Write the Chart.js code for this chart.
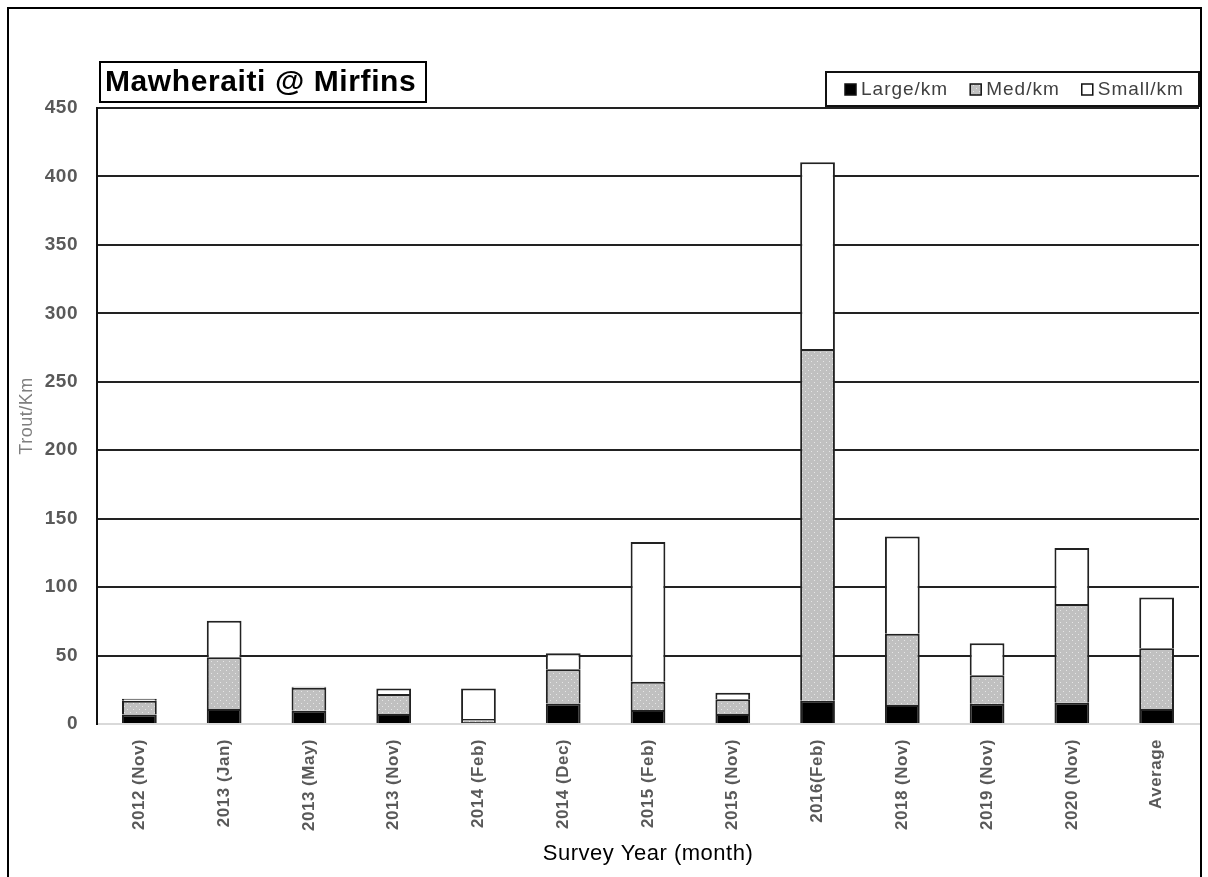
<!DOCTYPE html>
<html>
<head>
<meta charset="utf-8">
<title>Mawheraiti @ Mirfins</title>
<script src="https://cdn.jsdelivr.net/npm/chart.js@4.4.1/dist/chart.umd.min.js"></script>
<style>
  html, body { margin: 0; padding: 0; background: #fff; }
  #wrap { width: 1208px; height: 877px; }
</style>
</head>
<body>
<div id="wrap"><canvas id="trout-chart"></canvas></div>
<script>
const surveys = ['2012 (Nov)', '2013 (Jan)', '2013 (May)', '2013 (Nov)', '2014 (Feb)', '2014 (Dec)',
    '2015 (Feb)', '2015 (Nov)', '2016(Feb)', '2018 (Nov)', '2019 (Nov)', '2020 (Nov)', 'Average'];
const largeKm = [7, 11, 9.7, 7.3, 1.5, 15, 10.2, 7.3, 17, 13.9, 14.8, 15.6, 11];
const medKm = [10, 37.7, 16.8, 14.7, 2.1, 25, 20.7, 10.7, 257, 52.1, 20.8, 72, 44.3];
const smallKm = [1.5, 26.8, 0.8, 4, 22.4, 11.6, 102.1, 4.9, 136.3, 71, 23.4, 40.9, 37.2];
const yTicks = [0, 50, 100, 150, 200, 250, 300, 350, 400, 450];

const chartTitle = 'Mawheraiti @ Mirfins';
const FONT = "'Liberation Sans', Arial, sans-serif";
const SPACING = '0.5px'; // the original text is drawn a little spread out

// dotted grey fill for the medium fish
function dotPattern() {
    const c = document.createElement('canvas');
    c.width = 6; c.height = 6;
    const g = c.getContext('2d');
    g.fillStyle = '#c0c0c0';
    g.fillRect(0, 0, 6, 6);
    g.fillStyle = '#e6e6e6';
    g.fillRect(1, 1, 1, 1);
    g.fillRect(4, 4, 1, 1);
    return g.createPattern(c, 'repeat');
}
const medFill = dotPattern();

const framePlugin = {
    id: 'frame',
    beforeDraw(chart) {
        chart.ctx.letterSpacing = SPACING;
    },
    afterDraw(chart) {
        const ctx = chart.ctx;
        ctx.save();
        // outer frame
        ctx.strokeStyle = '#000';
        ctx.lineWidth = 2;
        ctx.strokeRect(8, 8, 1193, 880);

        // boxed title
        ctx.font = 'bold 30px ' + FONT;
        ctx.letterSpacing = '0.6px';
        ctx.textBaseline = 'middle';
        ctx.fillStyle = '#000';
        ctx.fillText(chartTitle, 105, 83);
        ctx.strokeRect(100, 62, 326, 40);

        // boxed legend, built from the datasets
        ctx.font = '19px ' + FONT;
        ctx.letterSpacing = '1px';
        const ds = chart.data.datasets;
        let x = 845;
        ds.forEach(d => {
            ctx.fillStyle = d.backgroundColor;
            ctx.fillRect(x, 84, 11, 11);
            ctx.lineWidth = 1.5;
            ctx.strokeStyle = '#111';
            ctx.strokeRect(x, 84, 11, 11);
            ctx.fillStyle = '#404040';
            ctx.fillText(d.label, x + 16, 90);
            x += 16 + ctx.measureText(d.label).width + 22;
        });
        ctx.lineWidth = 2;
        ctx.strokeStyle = '#111';
        ctx.strokeRect(826, 72, 373, 34);
        ctx.restore();
        ctx.letterSpacing = '0px';
    }
};

const ctx = document.getElementById('trout-chart').getContext('2d');
new Chart(ctx, {
    type: 'bar',
    data: {
        labels: surveys,
        datasets: [
            { label: 'Large/km', data: largeKm, backgroundColor: '#000000' },
            { label: 'Med/km', data: medKm, backgroundColor: medFill },
            { label: 'Small/km', data: smallKm, backgroundColor: '#ffffff' }
        ].map(d => Object.assign(d, {
            borderColor: '#222',
            borderWidth: 2,
            barPercentage: 0.41,
            categoryPercentage: 1
        }))
    },
    options: {
        responsive: true,
        maintainAspectRatio: false,
        animation: false,
        layout: { padding: { top: 108, left: 8, right: 9, bottom: 8 } },
        plugins: {
            legend: { display: false },
            tooltip: { enabled: false }
        },
        scales: {
            x: {
                stacked: true,
                afterFit(scale) { scale.height = 145; },
                grid: { display: false, drawTicks: false },
                border: { color: '#d9d9d9', width: 2 },
                ticks: {
                    maxRotation: 90,
                    minRotation: 90,
                    padding: 15,
                    color: '#595959',
                    font: { family: FONT, size: 17, weight: 'bold' }
                },
                title: {
                    display: true,
                    text: 'Survey Year (month)',
                    color: '#000',
                    padding: { top: 4, bottom: 2 },
                    font: { family: FONT, size: 22 }
                }
            },
            y: {
                stacked: true,
                min: 0,
                max: 450,
                afterFit(scale) { scale.width = 89; },
                afterBuildTicks(scale) { scale.ticks = yTicks.map(v => ({ value: v })); },
                grid: {
                    drawTicks: false,
                    lineWidth: 2,
                    color: c => (c.tick && c.tick.value === 0) ? '#d9d9d9' : '#222'
                },
                border: { color: '#111', width: 2 },
                ticks: {
                    padding: 19,
                    color: '#595959',
                    font: { family: FONT, size: 19, weight: 'bold' }
                },
                title: {
                    display: true,
                    text: 'Trout/Km',
                    color: '#7f7f7f',
                    padding: { top: 8, bottom: 0 },
                    font: { family: FONT, size: 18 }
                }
            }
        }
    },
    plugins: [framePlugin]
});
</script>
</body>
</html>
